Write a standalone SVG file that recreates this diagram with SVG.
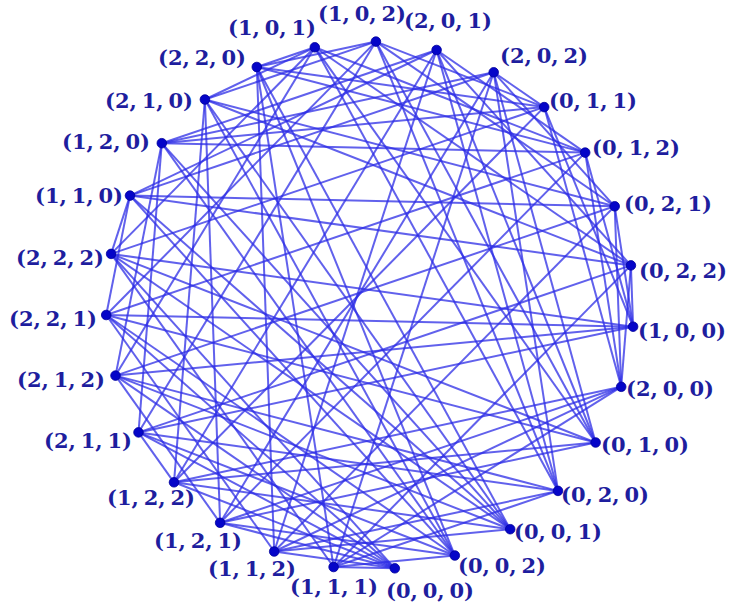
<svg xmlns="http://www.w3.org/2000/svg" width="733" height="611" viewBox="0 0 733 611">
<style>
.e line{stroke:#2c2ce6;stroke-opacity:0.75;stroke-width:2;fill:none}
.n circle{fill:#0505c8;stroke:#00009a;stroke-width:0.8}
.n text{font-family:"DejaVu Serif","Liberation Serif",serif;font-weight:bold;font-size:21px;word-spacing:-2.5px;fill:#1e1e9e}
</style>
<rect width="733" height="611" fill="#ffffff"/>
<g id="edges" class="e">
<line x1="394.8" y1="568.3" x2="111.1" y2="253.9"/>
<line x1="394.8" y1="568.3" x2="106.2" y2="315.0"/>
<line x1="394.8" y1="568.3" x2="115.5" y2="375.6"/>
<line x1="394.8" y1="568.3" x2="138.5" y2="432.4"/>
<line x1="394.8" y1="568.3" x2="174.0" y2="482.3"/>
<line x1="394.8" y1="568.3" x2="220.1" y2="522.8"/>
<line x1="394.8" y1="568.3" x2="274.2" y2="551.5"/>
<line x1="394.8" y1="568.3" x2="333.6" y2="567.0"/>
<line x1="454.8" y1="555.5" x2="256.8" y2="67.0"/>
<line x1="454.8" y1="555.5" x2="204.9" y2="99.5"/>
<line x1="454.8" y1="555.5" x2="161.8" y2="143.2"/>
<line x1="454.8" y1="555.5" x2="130.0" y2="195.6"/>
<line x1="454.8" y1="555.5" x2="106.2" y2="315.0"/>
<line x1="454.8" y1="555.5" x2="138.5" y2="432.4"/>
<line x1="454.8" y1="555.5" x2="220.1" y2="522.8"/>
<line x1="454.8" y1="555.5" x2="333.6" y2="567.0"/>
<line x1="510.2" y1="529.2" x2="256.8" y2="67.0"/>
<line x1="510.2" y1="529.2" x2="204.9" y2="99.5"/>
<line x1="510.2" y1="529.2" x2="161.8" y2="143.2"/>
<line x1="510.2" y1="529.2" x2="130.0" y2="195.6"/>
<line x1="510.2" y1="529.2" x2="111.1" y2="253.9"/>
<line x1="510.2" y1="529.2" x2="115.5" y2="375.6"/>
<line x1="510.2" y1="529.2" x2="174.0" y2="482.3"/>
<line x1="510.2" y1="529.2" x2="274.2" y2="551.5"/>
<line x1="558.0" y1="490.9" x2="493.7" y2="72.3"/>
<line x1="558.0" y1="490.9" x2="436.6" y2="50.0"/>
<line x1="558.0" y1="490.9" x2="375.9" y2="41.6"/>
<line x1="558.0" y1="490.9" x2="314.8" y2="47.3"/>
<line x1="558.0" y1="490.9" x2="115.5" y2="375.6"/>
<line x1="558.0" y1="490.9" x2="138.5" y2="432.4"/>
<line x1="558.0" y1="490.9" x2="274.2" y2="551.5"/>
<line x1="558.0" y1="490.9" x2="333.6" y2="567.0"/>
<line x1="595.6" y1="442.5" x2="493.7" y2="72.3"/>
<line x1="595.6" y1="442.5" x2="436.6" y2="50.0"/>
<line x1="595.6" y1="442.5" x2="375.9" y2="41.6"/>
<line x1="595.6" y1="442.5" x2="314.8" y2="47.3"/>
<line x1="595.6" y1="442.5" x2="111.1" y2="253.9"/>
<line x1="595.6" y1="442.5" x2="106.2" y2="315.0"/>
<line x1="595.6" y1="442.5" x2="174.0" y2="482.3"/>
<line x1="595.6" y1="442.5" x2="220.1" y2="522.8"/>
<line x1="621.2" y1="386.8" x2="630.9" y2="265.4"/>
<line x1="621.2" y1="386.8" x2="614.7" y2="206.3"/>
<line x1="621.2" y1="386.8" x2="585.2" y2="152.6"/>
<line x1="621.2" y1="386.8" x2="544.2" y2="107.1"/>
<line x1="621.2" y1="386.8" x2="174.0" y2="482.3"/>
<line x1="621.2" y1="386.8" x2="220.1" y2="522.8"/>
<line x1="621.2" y1="386.8" x2="274.2" y2="551.5"/>
<line x1="621.2" y1="386.8" x2="333.6" y2="567.0"/>
<line x1="633.1" y1="326.7" x2="630.9" y2="265.4"/>
<line x1="633.1" y1="326.7" x2="614.7" y2="206.3"/>
<line x1="633.1" y1="326.7" x2="585.2" y2="152.6"/>
<line x1="633.1" y1="326.7" x2="544.2" y2="107.1"/>
<line x1="633.1" y1="326.7" x2="111.1" y2="253.9"/>
<line x1="633.1" y1="326.7" x2="106.2" y2="315.0"/>
<line x1="633.1" y1="326.7" x2="115.5" y2="375.6"/>
<line x1="633.1" y1="326.7" x2="138.5" y2="432.4"/>
<line x1="630.9" y1="265.4" x2="436.6" y2="50.0"/>
<line x1="630.9" y1="265.4" x2="314.8" y2="47.3"/>
<line x1="630.9" y1="265.4" x2="204.9" y2="99.5"/>
<line x1="630.9" y1="265.4" x2="130.0" y2="195.6"/>
<line x1="630.9" y1="265.4" x2="138.5" y2="432.4"/>
<line x1="630.9" y1="265.4" x2="333.6" y2="567.0"/>
<line x1="614.7" y1="206.3" x2="493.7" y2="72.3"/>
<line x1="614.7" y1="206.3" x2="375.9" y2="41.6"/>
<line x1="614.7" y1="206.3" x2="204.9" y2="99.5"/>
<line x1="614.7" y1="206.3" x2="130.0" y2="195.6"/>
<line x1="614.7" y1="206.3" x2="115.5" y2="375.6"/>
<line x1="614.7" y1="206.3" x2="274.2" y2="551.5"/>
<line x1="585.2" y1="152.6" x2="436.6" y2="50.0"/>
<line x1="585.2" y1="152.6" x2="314.8" y2="47.3"/>
<line x1="585.2" y1="152.6" x2="256.8" y2="67.0"/>
<line x1="585.2" y1="152.6" x2="161.8" y2="143.2"/>
<line x1="585.2" y1="152.6" x2="106.2" y2="315.0"/>
<line x1="585.2" y1="152.6" x2="220.1" y2="522.8"/>
<line x1="544.2" y1="107.1" x2="493.7" y2="72.3"/>
<line x1="544.2" y1="107.1" x2="375.9" y2="41.6"/>
<line x1="544.2" y1="107.1" x2="256.8" y2="67.0"/>
<line x1="544.2" y1="107.1" x2="161.8" y2="143.2"/>
<line x1="544.2" y1="107.1" x2="111.1" y2="253.9"/>
<line x1="544.2" y1="107.1" x2="174.0" y2="482.3"/>
<line x1="493.7" y1="72.3" x2="161.8" y2="143.2"/>
<line x1="493.7" y1="72.3" x2="130.0" y2="195.6"/>
<line x1="493.7" y1="72.3" x2="220.1" y2="522.8"/>
<line x1="493.7" y1="72.3" x2="333.6" y2="567.0"/>
<line x1="436.6" y1="50.0" x2="161.8" y2="143.2"/>
<line x1="436.6" y1="50.0" x2="130.0" y2="195.6"/>
<line x1="436.6" y1="50.0" x2="174.0" y2="482.3"/>
<line x1="436.6" y1="50.0" x2="274.2" y2="551.5"/>
<line x1="375.9" y1="41.6" x2="256.8" y2="67.0"/>
<line x1="375.9" y1="41.6" x2="204.9" y2="99.5"/>
<line x1="375.9" y1="41.6" x2="106.2" y2="315.0"/>
<line x1="375.9" y1="41.6" x2="138.5" y2="432.4"/>
<line x1="314.8" y1="47.3" x2="256.8" y2="67.0"/>
<line x1="314.8" y1="47.3" x2="204.9" y2="99.5"/>
<line x1="314.8" y1="47.3" x2="111.1" y2="253.9"/>
<line x1="314.8" y1="47.3" x2="115.5" y2="375.6"/>
<line x1="256.8" y1="67.0" x2="274.2" y2="551.5"/>
<line x1="256.8" y1="67.0" x2="333.6" y2="567.0"/>
<line x1="204.9" y1="99.5" x2="174.0" y2="482.3"/>
<line x1="204.9" y1="99.5" x2="220.1" y2="522.8"/>
<line x1="161.8" y1="143.2" x2="115.5" y2="375.6"/>
<line x1="161.8" y1="143.2" x2="138.5" y2="432.4"/>
<line x1="130.0" y1="195.6" x2="111.1" y2="253.9"/>
<line x1="130.0" y1="195.6" x2="106.2" y2="315.0"/>
<line x1="111.1" y1="253.9" x2="333.6" y2="567.0"/>
<line x1="106.2" y1="315.0" x2="274.2" y2="551.5"/>
<line x1="115.5" y1="375.6" x2="220.1" y2="522.8"/>
<line x1="138.5" y1="432.4" x2="174.0" y2="482.3"/>
</g>
<g id="n000" class="n"><circle cx="394.8" cy="568.3" r="4.8"/><text x="386" y="598">(0, 0, 0)</text></g>
<g id="n002" class="n"><circle cx="454.8" cy="555.5" r="4.8"/><text x="458" y="573">(0, 0, 2)</text></g>
<g id="n001" class="n"><circle cx="510.2" cy="529.2" r="4.8"/><text x="514" y="539">(0, 0, 1)</text></g>
<g id="n020" class="n"><circle cx="558.0" cy="490.9" r="4.8"/><text x="561" y="502">(0, 2, 0)</text></g>
<g id="n010" class="n"><circle cx="595.6" cy="442.5" r="4.8"/><text x="601" y="452">(0, 1, 0)</text></g>
<g id="n200" class="n"><circle cx="621.2" cy="386.8" r="4.8"/><text x="626" y="396">(2, 0, 0)</text></g>
<g id="n100" class="n"><circle cx="633.1" cy="326.7" r="4.8"/><text x="638" y="338">(1, 0, 0)</text></g>
<g id="n022" class="n"><circle cx="630.9" cy="265.4" r="4.8"/><text x="639" y="278">(0, 2, 2)</text></g>
<g id="n021" class="n"><circle cx="614.7" cy="206.3" r="4.8"/><text x="624" y="211">(0, 2, 1)</text></g>
<g id="n012" class="n"><circle cx="585.2" cy="152.6" r="4.8"/><text x="592" y="155">(0, 1, 2)</text></g>
<g id="n011" class="n"><circle cx="544.2" cy="107.1" r="4.8"/><text x="549" y="108">(0, 1, 1)</text></g>
<g id="n202" class="n"><circle cx="493.7" cy="72.3" r="4.8"/><text x="500" y="63">(2, 0, 2)</text></g>
<g id="n201" class="n"><circle cx="436.6" cy="50.0" r="4.8"/><text x="404" y="28">(2, 0, 1)</text></g>
<g id="n102" class="n"><circle cx="375.9" cy="41.6" r="4.8"/><text x="318" y="21">(1, 0, 2)</text></g>
<g id="n101" class="n"><circle cx="314.8" cy="47.3" r="4.8"/><text x="228" y="35">(1, 0, 1)</text></g>
<g id="n220" class="n"><circle cx="256.8" cy="67.0" r="4.8"/><text x="158" y="65">(2, 2, 0)</text></g>
<g id="n210" class="n"><circle cx="204.9" cy="99.5" r="4.8"/><text x="105" y="108">(2, 1, 0)</text></g>
<g id="n120" class="n"><circle cx="161.8" cy="143.2" r="4.8"/><text x="62" y="149">(1, 2, 0)</text></g>
<g id="n110" class="n"><circle cx="130.0" cy="195.6" r="4.8"/><text x="35" y="203">(1, 1, 0)</text></g>
<g id="n222" class="n"><circle cx="111.1" cy="253.9" r="4.8"/><text x="16" y="265">(2, 2, 2)</text></g>
<g id="n221" class="n"><circle cx="106.2" cy="315.0" r="4.8"/><text x="9" y="326">(2, 2, 1)</text></g>
<g id="n212" class="n"><circle cx="115.5" cy="375.6" r="4.8"/><text x="17" y="387">(2, 1, 2)</text></g>
<g id="n211" class="n"><circle cx="138.5" cy="432.4" r="4.8"/><text x="44" y="448">(2, 1, 1)</text></g>
<g id="n122" class="n"><circle cx="174.0" cy="482.3" r="4.8"/><text x="107" y="505">(1, 2, 2)</text></g>
<g id="n121" class="n"><circle cx="220.1" cy="522.8" r="4.8"/><text x="154" y="548">(1, 2, 1)</text></g>
<g id="n112" class="n"><circle cx="274.2" cy="551.5" r="4.8"/><text x="208" y="576">(1, 1, 2)</text></g>
<g id="n111" class="n"><circle cx="333.6" cy="567.0" r="4.8"/><text x="290" y="594">(1, 1, 1)</text></g>
</svg>
